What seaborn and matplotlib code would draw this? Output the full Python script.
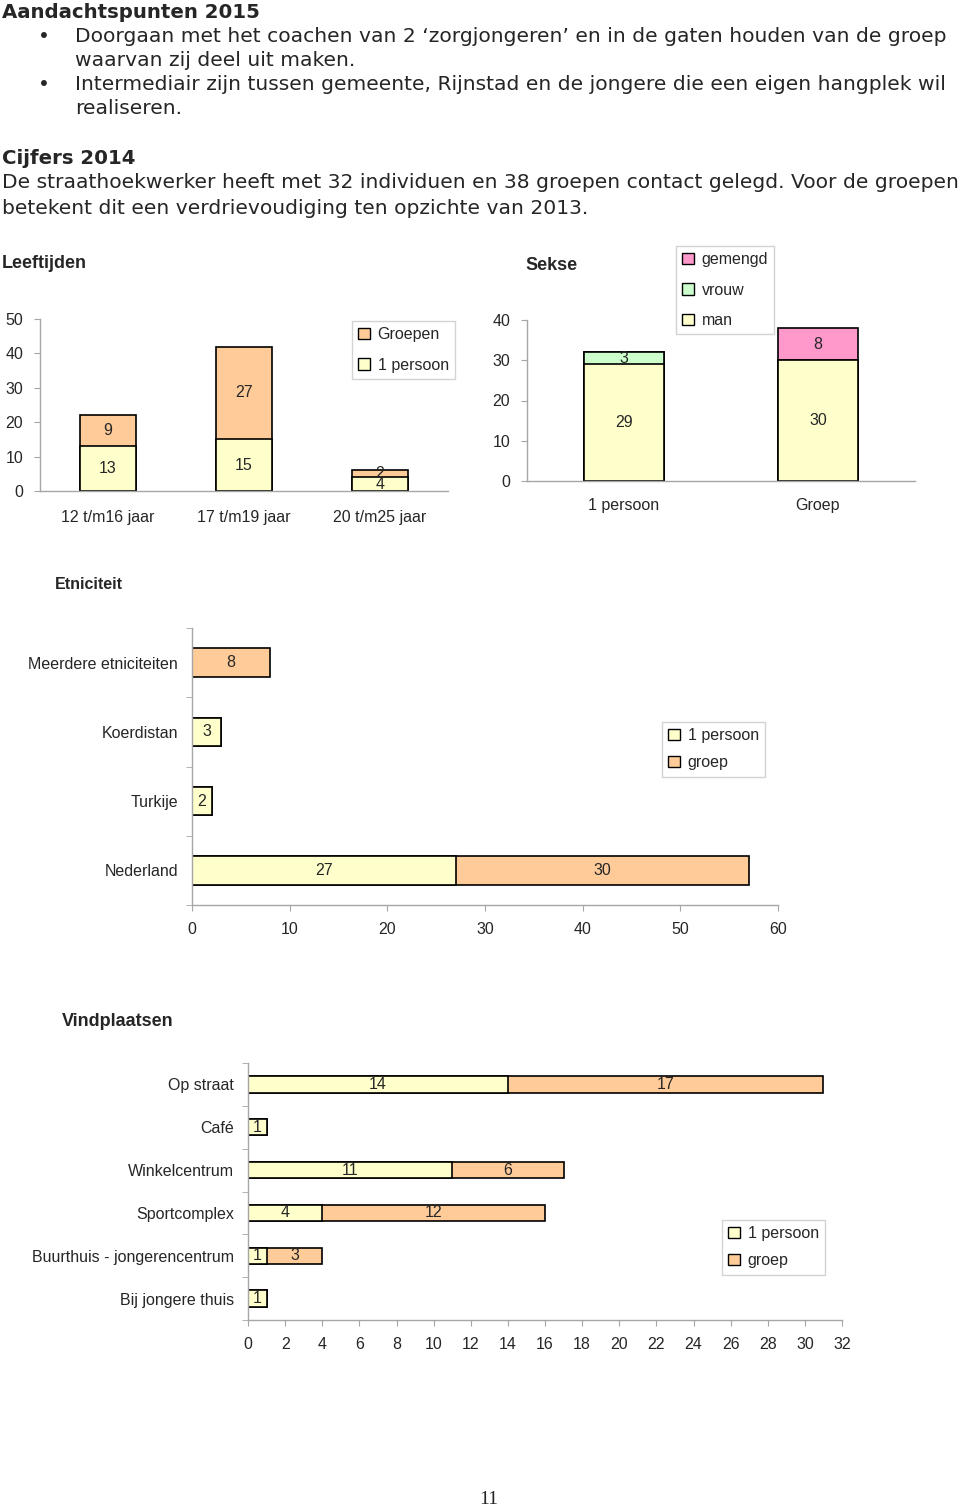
import matplotlib
matplotlib.use("Agg")
import matplotlib.pyplot as plt
from matplotlib.patches import Patch
import seaborn as sns
import numpy as np

# ---------------- data ----------------
age_cats = ["12 t/m16 jaar", "17 t/m19 jaar", "20 t/m25 jaar"]
age_persoon = [13, 15, 4]
age_groepen = [9, 27, 2]

sex_cats = ["1 persoon", "Groep"]
sex_man = [29, 30]
sex_vrouw = [3, 0]
sex_gemengd = [0, 8]

eth_cats = ["Meerdere etniciteiten", "Koerdistan", "Turkije", "Nederland"]
eth_persoon = [0, 3, 2, 27]
eth_groep = [8, 0, 0, 30]

loc_cats = ["Op straat", "Café", "Winkelcentrum", "Sportcomplex",
            "Buurthuis - jongerencentrum", "Bij jongere thuis"]
loc_persoon = [14, 1, 11, 4, 1, 1]
loc_groep = [17, 0, 6, 12, 3, 0]

age_ticks = [0, 10, 20, 30, 40, 50]
sex_ticks = [0, 10, 20, 30, 40]
eth_ticks = [0, 10, 20, 30, 40, 50, 60]
loc_ticks = list(range(0, 33, 2))

# ---------------- style ----------------
YELLOW = "#FFFFCC"
PEACH = "#FFCC99"
GREEN = "#CCFFCC"
PINK = "#FF99CC"
GRAY = "#A6A6A6"

sns.set_style("white")
plt.rcParams["font.family"] = ["Liberation Sans", "DejaVu Sans"]

W, H = 960, 1512
fig = plt.figure(figsize=(W / 100, H / 100), dpi=100)


def ax_px(l, t, r, b):
    return fig.add_axes([l / W, 1 - b / H, (r - l) / W, (b - t) / H])


def style_axes(ax):
    for s in ["top", "right"]:
        ax.spines[s].set_visible(False)
    for s in ["left", "bottom"]:
        ax.spines[s].set_color(GRAY)
        ax.spines[s].set_linewidth(1)
    ax.set_xlabel("")
    ax.set_ylabel("")


def legend(items, x, y, fs=11.5, spacing=0.75):
    handles = [Patch(facecolor=c, edgecolor="black", linewidth=1, label=l) for l, c in items]
    lg = fig.legend(handles=handles, loc="upper left", bbox_to_anchor=(x / W, 1 - y / H),
                    bbox_transform=fig.transFigure, frameon=True, fancybox=False,
                    edgecolor="#C8C8C8", fontsize=fs, handlelength=0.7, handleheight=0.7,
                    handletextpad=0.5, labelspacing=spacing, borderpad=0.4, borderaxespad=0)
    lg.get_frame().set_linewidth(1)
    return lg


FS = 11.5
bar_kw = dict(edgecolor="black", linewidth=1.2, saturation=1)

# ---------------- top text ----------------
tfs = 14.6
body = dict(fontsize=tfs, va="center", family=["DejaVu Sans"])
head = dict(fontsize=14.2, va="center", family=["DejaVu Sans"], fontweight="bold")
fig.text(2 / W, 1 - 12 / H, "Aandachtspunten 2015", **head)
fig.text(44 / W, 1 - 36 / H, "•", ha="center", **body)
fig.text(75 / W, 1 - 36 / H, "Doorgaan met het coachen van 2 ‘zorgjongeren’ en in de gaten houden van de groep", **body)
fig.text(75 / W, 1 - 60 / H, "waarvan zij deel uit maken.", **body)
fig.text(44 / W, 1 - 85 / H, "•", ha="center", **body)
fig.text(75 / W, 1 - 85 / H, "Intermediair zijn tussen gemeente, Rijnstad en de jongere die een eigen hangplek wil", **body)
fig.text(75 / W, 1 - 109 / H, "realiseren.", **body)
fig.text(2 / W, 1 - 158 / H, "Cijfers 2014", **head)
fig.text(2 / W, 1 - 183 / H, "De straathoekwerker heeft met 32 individuen en 38 groepen contact gelegd. Voor de groepen", **body)
fig.text(2 / W, 1 - 208 / H, "betekent dit een verdrievoudiging ten opzichte van 2013.", **body)

# ---------------- Leeftijden ----------------
fig.text(2 / W, 1 - 263 / H, "Leeftijden", fontsize=13, fontweight="bold", va="center")
ax1 = ax_px(40, 319, 448, 491)
tot = [a + b for a, b in zip(age_persoon, age_groepen)]
sns.barplot(x=age_cats, y=tot, color=PEACH, width=0.41, ax=ax1, **bar_kw)
sns.barplot(x=age_cats, y=age_persoon, color=YELLOW, width=0.41, ax=ax1, **bar_kw)
ax1.set_ylim(0, 50)
ax1.set_xlim(-0.5, 2.5)
ax1.set_yticks(age_ticks)
style_axes(ax1)
ax1.set_xticks([-0.5, 0.5, 1.5, 2.5], minor=True)
ax1.tick_params(axis="x", which="major", length=0, pad=14, labelsize=FS)
ax1.tick_params(axis="x", which="minor", length=4, color=GRAY, direction="out")
ax1.tick_params(axis="y", length=4, color=GRAY, direction="out", pad=8, labelsize=FS, left=True)
for i, (p, g) in enumerate(zip(age_persoon, age_groepen)):
    ax1.text(i, p / 2, str(p), ha="center", va="center", fontsize=FS)
    ax1.text(i, p + g / 2, str(g), ha="center", va="center", fontsize=FS)
legend([("Groepen", PEACH), ("1 persoon", YELLOW)], 352, 321, spacing=0.95)

# ---------------- Sekse ----------------
fig.text(525 / W, 1 - 265 / H, "Sekse", fontsize=13, fontweight="bold", va="center")
ax2 = ax_px(527, 320, 915, 481)
t3 = [a + b + c for a, b, c in zip(sex_man, sex_vrouw, sex_gemengd)]
t2 = [a + b for a, b in zip(sex_man, sex_vrouw)]
sns.barplot(x=sex_cats, y=t3, color=PINK, width=0.41, ax=ax2, **bar_kw)
sns.barplot(x=sex_cats, y=t2, color=GREEN, width=0.41, ax=ax2, **bar_kw)
sns.barplot(x=sex_cats, y=sex_man, color=YELLOW, width=0.41, ax=ax2, **bar_kw)
ax2.set_ylim(0, 40)
ax2.set_xlim(-0.5, 1.5)
ax2.set_yticks(sex_ticks)
style_axes(ax2)
ax2.set_xticks([-0.5, 0.5, 1.5], minor=True)
ax2.tick_params(axis="x", which="major", length=0, pad=12, labelsize=FS)
ax2.tick_params(axis="x", which="minor", length=4, color=GRAY, direction="out")
ax2.tick_params(axis="y", length=4, color=GRAY, direction="out", pad=8, labelsize=FS, left=True)
for i in range(len(sex_cats)):
    m, v, g = sex_man[i], sex_vrouw[i], sex_gemengd[i]
    ax2.text(i, m / 2, str(m), ha="center", va="center", fontsize=FS)
    if v:
        ax2.text(i, m + v / 2, str(v), ha="center", va="center", fontsize=FS)
    if g:
        ax2.text(i, m + v + g / 2, str(g), ha="center", va="center", fontsize=FS)
legend([("gemengd", PINK), ("vrouw", GREEN), ("man", YELLOW)], 676, 246, spacing=0.95)


# ---------------- horizontal stacked helper ----------------
def hstack(ax, cats, pers, groep, xmax, ticks, bh):
    tot = [a + b for a, b in zip(pers, groep)]
    sns.barplot(x=tot, y=cats, orient="h", color=PEACH, width=bh, ax=ax, **bar_kw)
    sns.barplot(x=pers, y=cats, orient="h", color=YELLOW, width=bh, ax=ax, **bar_kw)
    n = len(cats)
    ax.set_xlim(0, xmax)
    ax.set_ylim(n - 0.5, -0.5)
    ax.set_xticks(ticks)
    style_axes(ax)
    ax.set_yticks(np.arange(-0.5, n, 1.0), minor=True)
    ax.tick_params(axis="y", which="major", length=0, pad=10, labelsize=FS)
    ax.tick_params(axis="y", which="minor", length=4, color=GRAY, direction="out", left=True)
    ax.tick_params(axis="x", length=4, color=GRAY, direction="out", pad=8, labelsize=FS, bottom=True)
    for i, (p, g) in enumerate(zip(pers, groep)):
        if p:
            ax.text(p / 2, i, str(p), ha="center", va="center", fontsize=FS)
        if g:
            ax.text(p + g / 2, i, str(g), ha="center", va="center", fontsize=FS)


# ---------------- Etniciteit ----------------
fig.text(55 / W, 1 - 585 / H, "Etniciteit", fontsize=FS, fontweight="bold", va="center")
ax3 = ax_px(192, 628, 778, 905)
hstack(ax3, eth_cats, eth_persoon, eth_groep, 60, eth_ticks, 0.41)
legend([("1 persoon", YELLOW), ("groep", PEACH)], 662, 722)

# ---------------- Vindplaatsen ----------------
fig.text(62 / W, 1 - 1021 / H, "Vindplaatsen", fontsize=13, fontweight="bold", va="center")
ax4 = ax_px(248, 1063, 842, 1320)
hstack(ax4, loc_cats, loc_persoon, loc_groep, 32, loc_ticks, 0.38)
legend([("1 persoon", YELLOW), ("groep", PEACH)], 722, 1220)

# page number
fig.text(489 / W, 1 - 1500 / H, "11", fontsize=14, ha="center", va="center",
         family=["Liberation Serif", "DejaVu Serif"])

fig.savefig("out.png", dpi=100, facecolor="white")
